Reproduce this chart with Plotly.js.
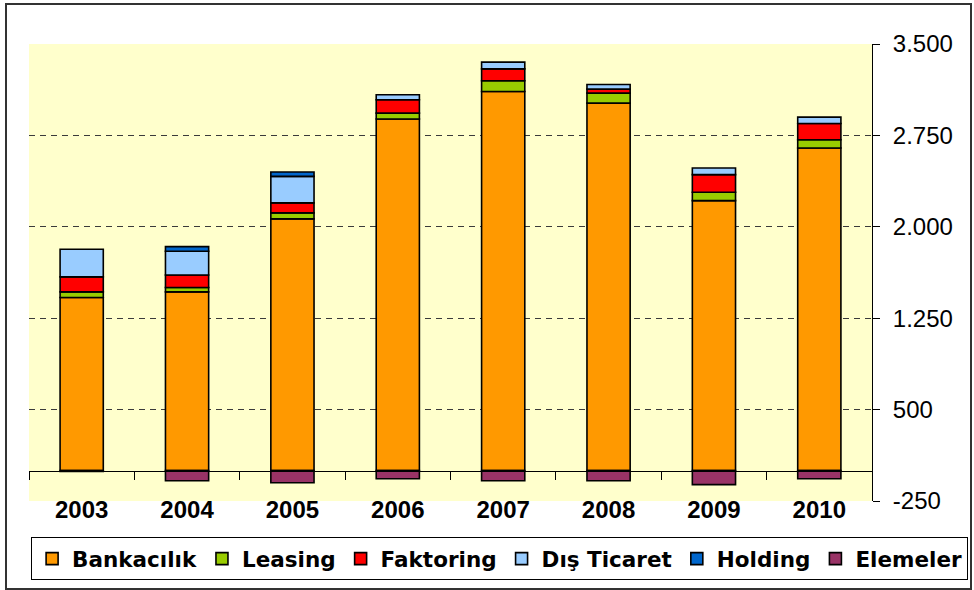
<!DOCTYPE html>
<html>
<head>
<meta charset="utf-8">
<script src="https://cdn.plot.ly/plotly-3.0.1.min.js"></script>
<style>
  html, body { margin: 0; padding: 0; background: #ffffff; }
  #wrap { position: relative; width: 974px; height: 590px; }
  #chart { width: 974px; height: 590px; }
  #frame { position: absolute; left: 5px; top: 3px; width: 963px; height: 583px;
           border: 2px solid #333333; pointer-events: none; }
</style>
</head>
<body>
<div id="wrap">
  <div id="chart"></div>
  <div id="frame"></div>
</div>
<script>
// ---- data ----
var years = ['2003', '2004', '2005', '2006', '2007', '2008', '2009', '2010'];
var bankacilik = [1420, 1466, 2065, 2884, 3110, 3015, 2215, 2646];
var leasing    = [46, 36, 49, 49, 88, 82, 68, 68];
var faktoring  = [123, 103, 82, 109, 98, 33, 145, 134];
var disTicaret = [227, 194, 218, 41, 55, 38, 55, 52];
var holding    = [null, 38, 36, null, null, null, null, null];
var elemeler   = [-8, -84, -100, -67, -84, -84, -116, -67];

var seriesNames  = ['Bankacılık', 'Leasing', 'Faktoring', 'Dış Ticaret', 'Holding', 'Elemeler'];
var seriesValues = [bankacilik, leasing, faktoring, disTicaret, holding, elemeler];
var seriesColors = ['#FF9900', '#99CC00', '#FF0000', '#99CCFF', '#0066CC', '#993366'];

var yTicks = [-250, 500, 1250, 2000, 2750, 3500];
var yTickText = ['-250', '500', '1.250', '2.000', '2.750', '3.500'];

var traces = seriesNames.map(function (name, i) {
  return {
    type: 'bar',
    name: name,
    x: years,
    y: seriesValues[i],
    marker: { color: seriesColors[i], line: { color: '#000000', width: 1.6 } },
    hoverinfo: 'x+y+name'
  };
});

var layout = {
  width: 974,
  height: 590,
  margin: { l: 29, r: 102, t: 44, b: 89, autoexpand: false },
  paper_bgcolor: '#ffffff',
  plot_bgcolor: '#FFFFCC',
  barmode: 'relative',
  bargap: 0.59,
  showlegend: true,
  legend: {
    orientation: 'h',
    x: 1.114, xanchor: 'right',
    y: -0.079, yanchor: 'top',
    bordercolor: '#000000',
    borderwidth: 1,
    bgcolor: '#ffffff',
    traceorder: 'normal',
    font: { family: 'DejaVu Sans, Arial, sans-serif', size: 21.5, color: '#000000', weight: 700 }
  },
  xaxis: {
    type: 'category',
    anchor: 'free',
    position: 250 / 3750,
    showline: true,
    linecolor: '#000000',
    linewidth: 1,
    ticks: 'outside',
    tickson: 'boundaries',
    ticklen: 8,
    tickcolor: '#000000',
    tickwidth: 1,
    ticklabelstandoff: 18,
    showgrid: false,
    zeroline: false,
    tickfont: { family: 'Arial', size: 24, color: '#000000', weight: 700 }
  },
  yaxis: {
    side: 'right',
    range: [-250, 3500],
    tickmode: 'array',
    tickvals: yTicks,
    ticktext: yTickText,
    showline: true,
    linecolor: '#000000',
    linewidth: 1,
    ticks: 'outside',
    ticklen: 7,
    tickcolor: '#000000',
    ticklabelstandoff: 8,
    showgrid: true,
    gridcolor: '#3a3a3a',
    gridwidth: 1,
    griddash: '6px,5px',
    zeroline: false,
    tickfont: { family: 'Arial', size: 24, color: '#000000' }
  }
};

Plotly.newPlot('chart', traces, layout, { displayModeBar: false });
</script>
</body>
</html>
